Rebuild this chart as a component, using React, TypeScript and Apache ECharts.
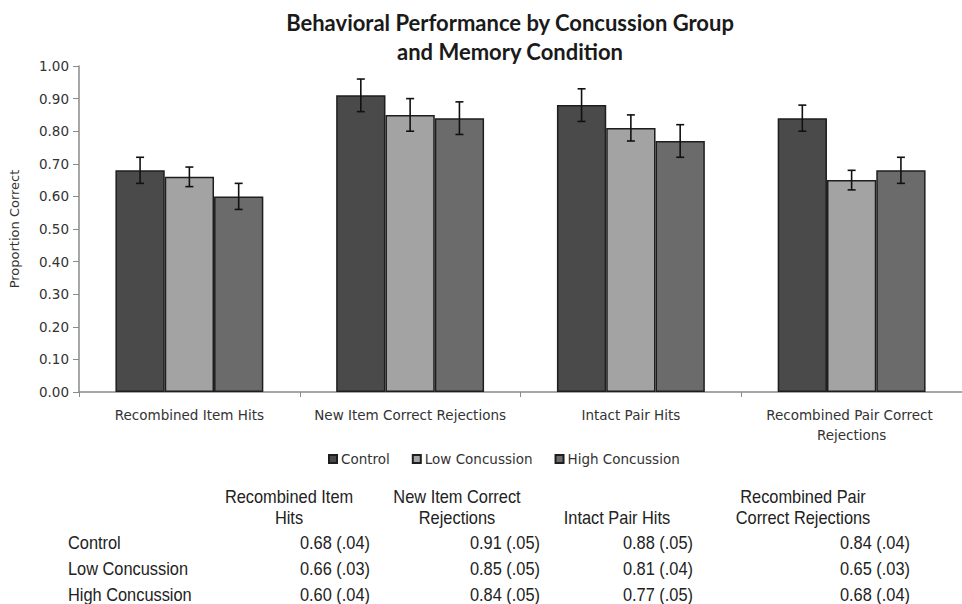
import React, { useEffect, useRef } from "react";
import * as echarts from "echarts";

const categories = [
  "Recombined Item Hits",
  "New Item Correct Rejections",
  "Intact Pair Hits",
  "Recombined Pair Correct Rejections",
];
const groups = ["Control", "Low Concussion", "High Concussion"];
const controlMeans = [0.68, 0.91, 0.88, 0.84];
const controlSE = [0.04, 0.05, 0.05, 0.04];
const lowMeans = [0.66, 0.85, 0.81, 0.65];
const lowSE = [0.03, 0.05, 0.04, 0.03];
const highMeans = [0.6, 0.84, 0.77, 0.68];
const highSE = [0.04, 0.05, 0.05, 0.04];
const yTicks = [0, 0.1, 0.2, 0.3, 0.4, 0.5, 0.6, 0.7, 0.8, 0.9, 1.0];
const tableHeaders = [
  ["Recombined Item", "Hits"],
  ["New Item Correct", "Rejections"],
  ["", "Intact Pair Hits"],
  ["Recombined Pair", "Correct Rejections"],
];

const means = [controlMeans, lowMeans, highMeans];
const ses = [controlSE, lowSE, highSE];
const colors = ["#4a4a4a", "#a3a3a3", "#6b6b6b"];
const CAT_GAP = 0.33;

export default function App() {
  const ref = useRef<HTMLDivElement>(null);
  useEffect(() => {
    document.body.style.margin = "0";
    if (!ref.current) return;
    const chart = echarts.init(ref.current, null, { renderer: "svg" });

    const barSeries = groups.map((g, k) => ({
      name: g,
      type: "bar",
      data: means[k],
      barGap: "0%",
      barCategoryGap: CAT_GAP * 100 + "%",
      itemStyle: { color: colors[k], borderColor: "#1e1e1e", borderWidth: 1.5 },
      z: 2,
    }));

    const errSeries = groups.map((g, k) => ({
      name: g + " SE",
      type: "custom",
      z: 5,
      data: means[k].map((v, i) => [i, v, ses[k][i]]),
      renderItem: (params: any, api: any) => {
        const i = api.value(0);
        const v = api.value(1);
        const e = api.value(2);
        const c = api.coord([i, v]);
        const band = api.size([1, 0])[0];
        const bw = (band * (1 - CAT_GAP)) / 3;
        const cx = c[0] + (k - 1) * bw;
        const top = api.coord([i, v + e])[1];
        const bot = api.coord([i, v - e])[1];
        const st = { stroke: "#111", lineWidth: 1.6 };
        const cap = 4;
        return {
          type: "group",
          children: [
            { type: "line", shape: { x1: cx, y1: top, x2: cx, y2: bot }, style: st },
            { type: "line", shape: { x1: cx - cap, y1: top, x2: cx + cap, y2: top }, style: st },
            { type: "line", shape: { x1: cx - cap, y1: bot, x2: cx + cap, y2: bot }, style: st },
          ],
        };
      },
    }));

    const tableFont = {
      fontFamily: "'Liberation Sans', Arial, sans-serif",
      fontSize: 18,
      fill: "#222",
    };
    const colCenters = [289, 457, 617, 803];
    const colRights = [370, 540, 693, 910];
    const rowYs = [543, 569, 595];
    const headerYs = [497, 518];
    const graphics: any[] = [];
    tableHeaders.forEach((h, c) => {
      h.forEach((t, line) => {
        if (!t) return;
        graphics.push({
          type: "text",
          x: colCenters[c],
          y: headerYs[line],
          scaleX: 0.91,
          style: { ...tableFont, text: t, textAlign: "center", textVerticalAlign: "middle" },
        });
      });
    });
    groups.forEach((g, r) => {
      graphics.push({
        type: "text",
        x: 68,
        y: rowYs[r],
        scaleX: 0.91,
        style: { ...tableFont, text: g, textAlign: "left", textVerticalAlign: "middle" },
      });
      categories.forEach((_, c) => {
        const txt = means[r][c].toFixed(2) + " (" + ses[r][c].toFixed(2).slice(1) + ")";
        graphics.push({
          type: "text",
          x: colRights[c],
          y: rowYs[r],
          scaleX: 0.91,
          style: { ...tableFont, text: txt, textAlign: "right", textVerticalAlign: "middle" },
        });
      });
    });

    const axisFont = { fontFamily: "'DejaVu Sans', Verdana, sans-serif", fontSize: 13.5, color: "#333" };

    chart.setOption({
      animation: false,
      backgroundColor: "#fff",
      title: {
        text: "Behavioral Performance by Concussion Group\nand Memory Condition",
        left: 505,
        top: 3,
        textAlign: "center",
        textStyle: {
          fontFamily: "Lato, 'Open Sans', sans-serif",
          fontWeight: "bold",
          fontSize: 22,
          lineHeight: 29,
          color: "#1a1a1a",
        },
      },
      legend: {
        data: groups,
        left: 323,
        top: 447,
        icon: "rect",
        itemWidth: 8,
        itemHeight: 8,
        itemGap: 22,
        textStyle: { ...axisFont, fontSize: 13.5, padding: [0, 0, 0, -1] },
      },
      grid: { left: 78, top: 66, width: 892, bottom: 212 },
      xAxis: {
        type: "category",
        data: categories,
        axisLine: { lineStyle: { color: "#8a8a8a", width: 1.5 } },
        axisTick: { show: true, length: 5, lineStyle: { color: "#8a8a8a" } },
        axisLabel: {
          ...axisFont,
          interval: 0,
          margin: 13,
          lineHeight: 20,
          width: 215,
          overflow: "break",
        },
      },
      yAxis: {
        type: "value",
        min: yTicks[0],
        max: yTicks[yTicks.length - 1],
        interval: 0.1,
        name: "Proportion Correct",
        nameLocation: "middle",
        nameGap: 58,
        nameTextStyle: { ...axisFont, fontSize: 13 },
        axisLine: { show: true, lineStyle: { color: "#8a8a8a", width: 1.5 } },
        axisTick: { show: true, length: 6, lineStyle: { color: "#8a8a8a" } },
        splitLine: { show: false },
        axisLabel: { ...axisFont, margin: 10, formatter: (v: number) => v.toFixed(2) },
      },
      series: [...barSeries, ...errSeries],
      graphic: graphics,
    });
    return () => chart.dispose();
  }, []);
  return <div ref={ref} style={{ width: 962, height: 604 }} />;
}
